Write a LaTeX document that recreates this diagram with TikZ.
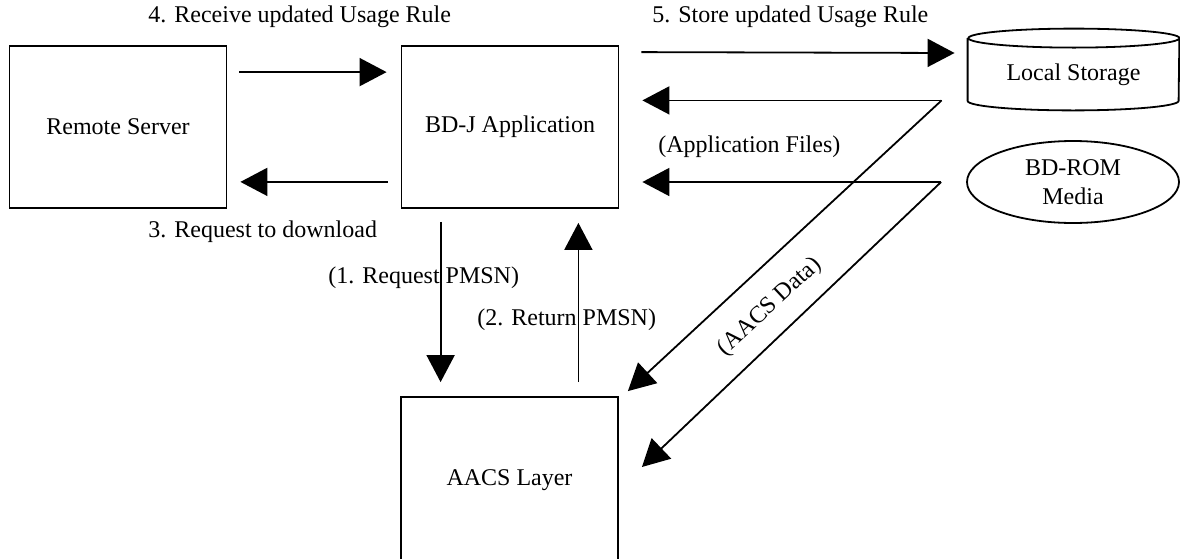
\documentclass[tikz,border=0pt]{standalone}
\usepackage{fontspec}
\setmainfont{Liberation Serif}
\usetikzlibrary{arrows.meta}
\usetikzlibrary{shapes.geometric}
\usetikzlibrary{calc}

\begin{document}
\begin{tikzpicture}[x=0.5pt, y=-0.5pt,
every node/.style = {font=\fontsize{12}{14.5}\selectfont, color=black},
block/.style = {shape=rectangle, draw, line width=0.9pt,
  minimum width=108.5pt, minimum height=81pt},
flow/.style = {line width=0.9pt, -{Triangle[length=13.5pt, width=14pt]}},
line/.style = {line width=0.9pt},
note/.style = {anchor=west, inner sep=0pt}
]
\clip (0,0) rectangle (1180,558);
\node [block] (remote) at (118,127) {Remote Server};
\node [block] (bdj) at (510,127) {BD-J Application};
\node [block, minimum height=83pt] (aacs) at (509.5,480) {AACS Layer};
\node [minimum width=105.5pt, minimum height=40.5pt, text height=14pt] (store) at (1073.5,69.5) {Local Storage};
\draw [line] ([yshift=-4.75pt]store.north west) -- ([yshift=4.75pt]store.south west)
  arc[start angle=180, end angle=360, x radius=52.75pt, y radius=4.75pt]
  -- ([yshift=-4.75pt]store.north east)
  arc[start angle=0, end angle=180, x radius=52.75pt, y radius=4.75pt]
  arc[start angle=180, end angle=360, x radius=52.75pt, y radius=4.75pt];
\node [ellipse, draw, line width=0.9pt, minimum width=106pt, minimum height=41pt,
  inner sep=0pt, align=center] (rom) at (1073,182) {BD-ROM\\Media};

\coordinate (lsrc) at ($(store.south west)+(-26,-10)$);
\coordinate (rsrc) at ($(rom.west)+(-25,0)$);

\draw [flow] ($(remote.north east)+(12,27)$) -- ($(bdj.north west)+(-14,27)$);
\draw [flow] ($(bdj.south west)+(-13,-27)$) -- ($(remote.south east)+(13,-27)$);
\draw [flow] ($(bdj.north east)+(22,7)$) -- ($(store.west)+(-13,-16.5)$);
\draw [flow] (lsrc) -- ($(lsrc -| bdj.east)+(23,0)$);
\draw [flow] (lsrc) -- ($(aacs.north east)+(9,-5)$);
\draw [flow] (rsrc) -- ($(rsrc -| bdj.east)+(23,0)$);
\draw [flow] (rsrc) -- ($(aacs.east)+(23,-13)$);
\draw [flow] ($(bdj.south west)+(40,13)$) -- ($(bdj.south west |- aacs.north)+(40,-14)$);
\draw [flow] ($(bdj.south east |- aacs.north)+(-41,-14)$) -- ($(bdj.south east)+(-41,14)$);

\node [note] (rcvlbl) at (148,17) {4. Receive updated Usage Rule};
\node [note] (storelbl) at (652,17) {5. Store updated Usage Rule};
\node [note] (reqlbl) at (148,232) {3. Request to download};
\node [note] (pmsnreq) at (328,278) {(1. Request PMSN)};
\node [note] (pmsnret) at (477,320) {(2. Return PMSN)};
\node [note] (applbl) at (658,147) {(Application Files)};
\node [rotate=43] (aacslbl) at (770,307) {(AACS Data)};

\end{tikzpicture}
\end{document}
